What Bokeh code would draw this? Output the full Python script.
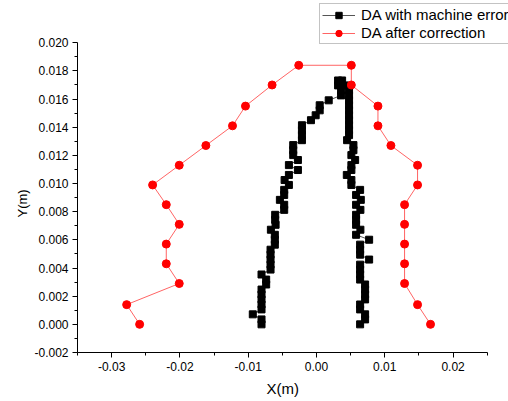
from bokeh.plotting import figure
from bokeh.models import Legend, LegendItem, FixedTicker, NumeralTickFormatter, Title
from bokeh.embed import file_html
from bokeh.resources import INLINE

# ---- data: DA after correction (left side bottom->top, right side top->bottom)
red_left_x = [-0.0259, -0.0278, -0.0201, -0.0220, -0.0220, -0.0201, -0.0220,
              -0.0240, -0.0201, -0.0162, -0.0123, -0.0104, -0.0065, -0.0026]
red_left_y = [0.0000, 0.0014, 0.0029, 0.0043, 0.0057, 0.0071, 0.0085,
              0.0099, 0.0113, 0.0127, 0.0141, 0.0155, 0.0170, 0.0184]
red_right_x = [0.0051, 0.0051, 0.0090, 0.0090, 0.0109, 0.0148, 0.0148,
               0.0129, 0.0129, 0.0129, 0.0129, 0.0129, 0.0148, 0.0167]
red_right_y = [0.0184, 0.0170, 0.0155, 0.0141, 0.0127, 0.0113, 0.0099,
               0.0085, 0.0071, 0.0057, 0.0043, 0.0029, 0.0014, 0.0000]

# ---- data: DA with machine error (levels bottom->top)
black_y = [0.00000, 0.00035, 0.00071, 0.00106, 0.00141, 0.00177, 0.00212, 0.00247,
           0.00283, 0.00318, 0.00354, 0.00389, 0.00424, 0.00460, 0.00495, 0.00530,
           0.00566, 0.00601, 0.00636, 0.00672, 0.00707, 0.00742, 0.00778, 0.00813,
           0.00849, 0.00884, 0.00919, 0.00955, 0.00990, 0.01025, 0.01061, 0.01096,
           0.01131, 0.01167, 0.01202, 0.01237, 0.01273, 0.01308, 0.01344, 0.01379,
           0.01414, 0.01450, 0.01485, 0.01520, 0.01556, 0.01591, 0.01626, 0.01662,
           0.01697, 0.01732]
black_left_x = [-0.00805, -0.00805, -0.00933, -0.00805, -0.00805, -0.00805, -0.00805, -0.00805,
                -0.00737, -0.00737, -0.00805, -0.00673, -0.00673, -0.00673, -0.00673, -0.00673,
                -0.00610, -0.00610, -0.00610, -0.00668, -0.00599, -0.00605, -0.00605, -0.00473,
                -0.00473, -0.00536, -0.00473, -0.00473, -0.00404, -0.00467, -0.00404, -0.00272,
                -0.00404, -0.00272, -0.00341, -0.00341, -0.00341, -0.00213, -0.00213, -0.00213,
                -0.00213, -0.00081, -0.00012, 0.00047, 0.00047, 0.00179, 0.00360, 0.00360,
                0.00316, 0.00316]
black_right_x = [0.00639, 0.00712, 0.00712, 0.00639, 0.00639, 0.00712, 0.00712, 0.00712,
                 0.00712, 0.00639, 0.00639, 0.00639, 0.00639, 0.00771, 0.00639, 0.00639,
                 0.00639, 0.00771, 0.00580, 0.00643, 0.00580, 0.00580, 0.00580, 0.00643,
                 0.00580, 0.00649, 0.00580, 0.00639, 0.00511, 0.00511, 0.00444, 0.00511,
                 0.00511, 0.00566, 0.00511, 0.00541, 0.00541, 0.00448, 0.00477, 0.00477,
                 0.00477, 0.00477, 0.00477, 0.00477, 0.00477, 0.00477, 0.00477, 0.00477,
                 0.00419, 0.00375]

x_ticks = [-0.03, -0.02, -0.01, 0.00, 0.01, 0.02]
x_minor = [-0.035, -0.025, -0.015, -0.005, 0.005, 0.015, 0.025]
x_axis_bounds = (-0.035, 0.025)
y_ticks = [-0.002, 0.000, 0.002, 0.004, 0.006, 0.008, 0.010, 0.012, 0.014, 0.016, 0.018, 0.020]
y_minor = [-0.001, 0.001, 0.003, 0.005, 0.007, 0.009, 0.011, 0.013, 0.015, 0.017, 0.019]
y_axis_bounds = (-0.002, 0.020)

black_x = black_left_x + black_right_x[::-1]
black_yy = black_y + black_y[::-1]
red_x = red_left_x + red_right_x
red_y = red_left_y + red_right_y

FONT = "Liberation Sans"

# frame extends to the top/right canvas edges (room for the legend); axes are bounded
p = figure(width=508, height=401, output_backend="svg", toolbar_location=None,
           x_range=(-0.035, 0.02812), y_range=(-0.002, 0.02300),
           min_border_left=77, min_border_right=0, min_border_top=0, min_border_bottom=49)
p.outline_line_color = None
p.xgrid.visible = False
p.ygrid.visible = False

bl = p.line(black_x, black_yy, line_color="#555555", line_width=1)
bs = p.scatter(black_x, black_yy, marker="square", size=7, fill_color="black", line_color="black")
rl = p.line(red_x, red_y, line_color="#ff3030", line_width=1, line_alpha=0.75)
rs = p.scatter(red_x, red_y, marker="circle", size=8, fill_color="red", line_color="red")

for ax, ticks, minor, fmt, bnds in ((p.xaxis[0], x_ticks, x_minor, "0.00", x_axis_bounds),
                                    (p.yaxis[0], y_ticks, y_minor, "0.000", y_axis_bounds)):
    ax.ticker = FixedTicker(ticks=ticks, minor_ticks=minor)
    ax.formatter = NumeralTickFormatter(format=fmt)
    ax.bounds = bnds
    ax.major_tick_out = 5
    ax.major_tick_in = 0
    ax.minor_tick_out = 3
    ax.minor_tick_in = 0
    ax.axis_line_color = "black"
    ax.major_tick_line_color = "black"
    ax.minor_tick_line_color = "black"
    ax.major_label_text_font = FONT
    ax.major_label_text_font_size = "12px"
    ax.major_label_text_color = "black"
    ax.major_label_standoff = 4

# axis titles, placed along the bounded axes (not the extended frame)
p.add_layout(Title(text="Y(m)", align="left", offset=135, text_font=FONT,
                   text_font_size="13px", text_font_style="normal", text_color="black",
                   standoff=4), "left")
p.add_layout(Title(text="X(m)", align="left", offset=189, text_font=FONT,
                   text_font_size="15px", text_font_style="normal", text_color="black",
                   standoff=9), "below")

legend = Legend(items=[LegendItem(label="DA with machine error", renderers=[bl, bs]),
                       LegendItem(label="DA after correction", renderers=[rl, rs])],
                location=(242, 308))
legend.label_text_font = FONT
legend.label_text_font_size = "15px"
legend.label_text_color = "black"
legend.glyph_width = 33
legend.glyph_height = 16
legend.label_height = 16
legend.label_standoff = 6
legend.padding = 2
legend.spacing = 1
legend.margin = 0
legend.border_line_color = "#888888"
legend.border_line_width = 1
legend.background_fill_alpha = 1
p.add_layout(legend, "center")

open("out.html", "w").write(file_html(p, INLINE))
